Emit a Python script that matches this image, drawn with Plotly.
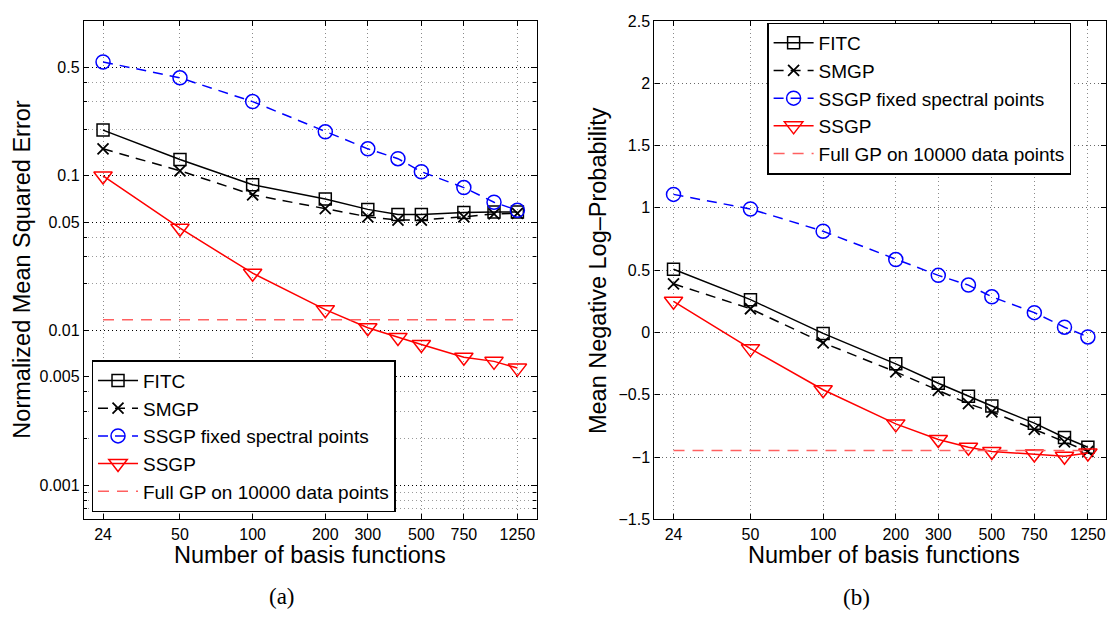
import math
import plotly.graph_objects as go

# ---------------- data ----------------
n_basis = [24, 50, 100, 200, 300, 400, 500, 750, 1000, 1250]
x_tick_vals = [24, 50, 100, 200, 300, 500, 750, 1250]
x_tick_text = ["24", "50", "100", "200", "300", "500", "750", "1250"]

# (a) Normalized Mean Squared Error
fitc_mse = [0.197, 0.127, 0.0874, 0.0706, 0.0605, 0.056, 0.056, 0.0577, 0.0582, 0.0582]
smgp_mse = [0.149, 0.1075, 0.0752, 0.0611, 0.0542, 0.0516, 0.0516, 0.0542, 0.0565, 0.0571]
ssgp_fixed_mse = [0.543, 0.429, 0.301, 0.192, 0.149, 0.1287, 0.106, 0.0837, 0.0673, 0.0597]
ssgp_mse = [0.0995, 0.0457, 0.0234, 0.0136, 0.0104, 0.0090, 0.0081, 0.0067, 0.0063, 0.0057]
fullgp_mse = 0.0117

mse_tick_vals = [0.001, 0.005, 0.01, 0.05, 0.1, 0.5]
mse_tick_text = ["0.001", "0.005", "0.01", "0.05", "0.1", "0.5"]
mse_minor_vals = [0.0006, 0.0007, 0.0008, 0.0009, 0.002, 0.003, 0.004,
                  0.02, 0.03, 0.04, 0.2, 0.3, 0.4]

# (b) Mean Negative Log-Probability
fitc_nlp = [0.507, 0.263, -0.008, -0.252, -0.408, -0.512, -0.59, -0.728, -0.843, -0.921]
smgp_nlp = [0.39, 0.19, -0.083, -0.317, -0.465, -0.572, -0.637, -0.778, -0.879, -0.955]
ssgp_fixed_nlp = [1.108, 0.991, 0.812, 0.585, 0.458, 0.38, 0.286, 0.159, 0.042, -0.036]
ssgp_nlp = [0.25, -0.13, -0.46, -0.734, -0.859, -0.921, -0.955, -0.976, -0.994, -0.968]
fullgp_nlp = -0.947

nlp_tick_vals = [-1.5, -1, -0.5, 0, 0.5, 1, 1.5, 2, 2.5]
nlp_tick_text = ["\u22121.5", "\u22121", "\u22120.5", "0", "0.5", "1", "1.5", "2", "2.5"]

names = ["FITC", "SMGP", "SSGP fixed spectral points", "SSGP", "Full GP on 10000 data points"]

# ---------------- styling ----------------
W, H = 1107, 622
FONT = "Liberation Sans, Arial, Helvetica, sans-serif"
BLACK = "#000000"
BLUE = "#0000ff"
RED = "#ff0000"
PINK = "#ff6060"
DASH = "10px,7px"
LEGEND_FS = 19

fig = go.Figure()


def add_panel(xa, ya, legend, fitc, smgp, fixed, ssgp, full):
    fig.add_trace(go.Scatter(
        x=n_basis, y=fitc, name=names[0], mode="lines+markers",
        line=dict(color=BLACK, width=1.5),
        marker=dict(symbol="square-open", size=12, color=BLACK, line=dict(width=1.5)),
        xaxis=xa, yaxis=ya, legend=legend))
    fig.add_trace(go.Scatter(
        x=n_basis, y=smgp, name=names[1], mode="lines+markers",
        line=dict(color=BLACK, width=1.5, dash=DASH),
        marker=dict(symbol="x-thin-open", size=11, color=BLACK, line=dict(width=1.8, color=BLACK)),
        xaxis=xa, yaxis=ya, legend=legend))
    fig.add_trace(go.Scatter(
        x=n_basis, y=fixed, name=names[2], mode="lines+markers",
        line=dict(color=BLUE, width=1.5, dash=DASH),
        marker=dict(symbol="circle-open", size=14, color=BLUE, line=dict(width=1.5)),
        xaxis=xa, yaxis=ya, legend=legend))
    fig.add_trace(go.Scatter(
        x=n_basis, y=ssgp, name=names[3], mode="lines+markers",
        line=dict(color=RED, width=1.5),
        marker=dict(symbol="triangle-down-open", size=16, color=RED, line=dict(width=1.5)),
        xaxis=xa, yaxis=ya, legend=legend))
    fig.add_trace(go.Scatter(
        x=[n_basis[0], n_basis[-1]], y=[full, full], name=names[4], mode="lines",
        line=dict(color=PINK, width=1.5, dash="11px,8px"),
        xaxis=xa, yaxis=ya, legend=legend))


add_panel("x", "y", "legend", fitc_mse, smgp_mse, ssgp_fixed_mse, ssgp_mse, fullgp_mse)
add_panel("x2", "y2", "legend2", fitc_nlp, smgp_nlp, ssgp_fixed_nlp, ssgp_nlp, fullgp_nlp)

y_dom = [1 - 525.7 / H, 1 - 13.3 / H]
left_dom = [84 / W, 537 / W]
right_dom = [655 / W, 1.0]

px_per_dec = (537 - 84) / (math.log10(1500) - math.log10(20))
right_hi = math.log10(20) + (W - 655) / px_per_dec

common_x = dict(
    type="log", tickmode="array", tickvals=x_tick_vals, ticktext=x_tick_text,
    ticks="inside", ticklen=5, tickwidth=1, tickcolor=BLACK,
    showline=True, linecolor=BLACK, linewidth=1.3, mirror="allticks",
    showgrid=True, gridcolor="#8a8a8a", griddash="1px,3px", gridwidth=1,
    zeroline=False, tickfont=dict(family=FONT, size=16, color=BLACK),
)

fig.update_layout(
    width=W, height=H,
    margin=dict(l=0, r=0, t=0, b=0),
    paper_bgcolor="white", plot_bgcolor="white",
    font=dict(family=FONT, color=BLACK),
    xaxis=dict(common_x, domain=left_dom, anchor="y",
               range=[math.log10(20), math.log10(1500)]),
    xaxis2=dict(common_x, domain=right_dom, anchor="y2",
                range=[math.log10(20), right_hi]),
    yaxis=dict(
        type="log", domain=y_dom, anchor="x",
        range=[math.log10(0.0006), 0.0],
        tickmode="array", tickvals=mse_tick_vals, ticktext=mse_tick_text,
        ticks="inside", ticklen=5, tickwidth=1, tickcolor=BLACK,
        showline=True, linecolor=BLACK, linewidth=1.3, mirror="allticks",
        showgrid=True, gridcolor="#000000", griddash="1px,3px", gridwidth=1,
        zeroline=False, tickfont=dict(family=FONT, size=16, color=BLACK),
        minor=dict(tickmode="array", tickvals=mse_minor_vals, ticks="inside",
                   ticklen=3, tickcolor=BLACK, showgrid=True,
                   gridcolor="#9a9a9a", griddash="1px,3px", gridwidth=1),
    ),
    yaxis2=dict(
        domain=y_dom, anchor="x2", range=[-1.5, 2.5],
        tickmode="array", tickvals=nlp_tick_vals, ticktext=nlp_tick_text,
        ticks="inside", ticklen=5, tickwidth=1, tickcolor=BLACK,
        showline=True, linecolor=BLACK, linewidth=1.3, mirror="allticks",
        showgrid=True, gridcolor="#6a6a6a", griddash="1px,3px", gridwidth=1,
        zeroline=False, tickfont=dict(family=FONT, size=16, color=BLACK),
    ),
    legend=dict(
        x=91.8 / W, y=1 - 518.5 / H, xanchor="left", yanchor="bottom",
        bgcolor="white", bordercolor=BLACK, borderwidth=1.3,
        font=dict(family=FONT, size=LEGEND_FS, color=BLACK), tracegroupgap=0,
        itemwidth=40,
    ),
    legend2=dict(
        x=768 / W, y=1 - 15 / H, xanchor="left", yanchor="top",
        bgcolor="white", bordercolor=BLACK, borderwidth=1.3,
        font=dict(family=FONT, size=LEGEND_FS, color=BLACK), tracegroupgap=0,
        itemwidth=40,
    ),
    showlegend=True,
)

annotations = [
    dict(text="Number of basis functions", x=(84 + 537) / 2 / W, y=1 - 562 / H,
         font=dict(family=FONT, size=23.5, color=BLACK)),
    dict(text="Number of basis functions", x=(655 + 1115) / 2 / W, y=1 - 562 / H,
         font=dict(family=FONT, size=23.5, color=BLACK)),
    dict(text="Normalized Mean Squared Error", x=22 / W, y=1 - 269 / H, textangle=-90,
         font=dict(family=FONT, size=23.5, color=BLACK)),
    dict(text="Mean Negative Log\u2013Probability", x=598 / W, y=1 - 270 / H, textangle=-90,
         font=dict(family=FONT, size=23.5, color=BLACK)),
    dict(text="(a)", x=282 / W, y=1 - 605 / H,
         font=dict(family="Liberation Serif, Times New Roman, serif", size=23, color=BLACK)),
    dict(text="(b)", x=857 / W, y=1 - 606 / H,
         font=dict(family="Liberation Serif, Times New Roman, serif", size=23, color=BLACK)),
]
for a in annotations:
    a.update(xref="paper", yref="paper", showarrow=False, xanchor="center", yanchor="middle")
fig.update_layout(annotations=annotations)

fig.write_html("out.html")
